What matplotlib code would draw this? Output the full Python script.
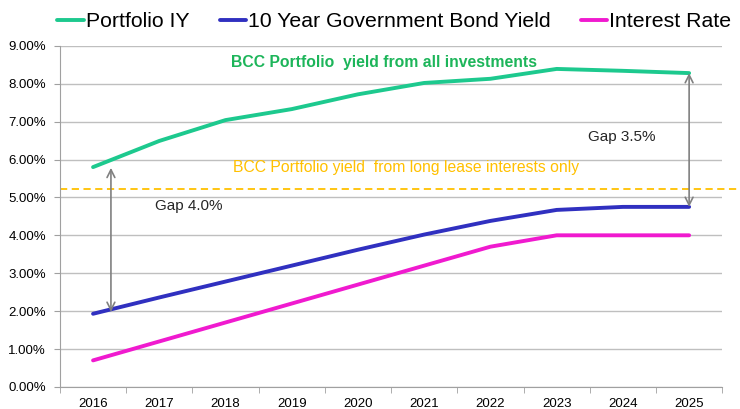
import matplotlib.pyplot as plt
from matplotlib.ticker import FuncFormatter

plt.rcParams['font.family'] = ['Liberation Sans', 'DejaVu Sans']

# Valores por ano (%)
anos = ['2016', '2017', '2018', '2019', '2020', '2021', '2022', '2023', '2024', '2025']
portfolio_iy = [5.80, 6.49, 7.04, 7.33, 7.72, 8.02, 8.13, 8.39, 8.34, 8.28]
bond_yield = [1.93, 2.36, 2.78, 3.20, 3.62, 4.02, 4.38, 4.67, 4.75, 4.75]
interest_rate = [0.70, 1.20, 1.70, 2.20, 2.70, 3.20, 3.70, 4.00, 4.00, 4.00]
long_lease_yield = 5.22

fig = plt.figure(figsize=(7.4, 4.09), dpi=100)
ax = fig.add_axes([0.081, 0.054, 0.895, 0.834])

x = list(range(len(anos)))
ax.plot(x, portfolio_iy, color='#1DC98E', lw=2.8, solid_capstyle='round', label='Portfolio IY')
ax.plot(x, bond_yield, color='#3030C0', lw=2.8, solid_capstyle='round', label='10 Year Government Bond Yield')
ax.plot(x, interest_rate, color='#F01ACF', lw=2.8, solid_capstyle='round', label='Interest Rate')

# Linha tracejada do rendimento de arrendamentos longos
ax.axhline(long_lease_yield, xmin=0, xmax=1.03, color='#FFC000', lw=1.3,
           ls=(0, (4, 2.5)), clip_on=False, zorder=1)

ax.set_xlim(-0.5, len(anos) - 0.5)
ax.set_ylim(0, 9)
ax.set_yticks(range(0, 10))
ax.yaxis.set_major_formatter(FuncFormatter(lambda v, p: f'{v:.2f}%'))
ax.set_xticks(x)
ax.set_xticklabels(anos)
ax.set_xticks([i - 0.5 for i in range(len(anos) + 1)], minor=True)
ax.tick_params(axis='x', which='major', length=0, pad=8, labelsize=9.5)
ax.tick_params(axis='x', which='minor', length=4, color='#A0A0A0')
ax.tick_params(axis='y', length=4, color='#A0A0A0', labelsize=9.5, pad=6)
ax.grid(axis='y', color='#BFBFBF', lw=1)
ax.set_axisbelow(True)
for s in ['top', 'right']:
    ax.spines[s].set_visible(False)
ax.spines['left'].set_color('#A0A0A0')
ax.spines['bottom'].set_color('#A0A0A0')

# Setas de diferença
seta = dict(arrowstyle='<->', color='#808080', lw=1.2, mutation_scale=14, shrinkA=0, shrinkB=0)
ax.annotate('', xy=(0.27, bond_yield[0] + 0.05), xytext=(0.27, portfolio_iy[0] - 0.02), arrowprops=seta)
ax.annotate('', xy=(9, bond_yield[-1]), xytext=(9, portfolio_iy[-1]), arrowprops=seta)

ax.text(0.93, 4.78, 'Gap 4.0%', fontsize=11, color='#262626', va='center')
ax.text(7.48, 6.6, 'Gap 3.5%', fontsize=11, color='#262626', va='center')
ax.text(4.39, 8.55, 'BCC Portfolio  yield from all investments', fontsize=11.3, color='#1DB55A',
        fontweight='bold', ha='center', va='center')
ax.text(4.73, 5.78, 'BCC Portfolio yield  from long lease interests only', fontsize=11.3,
        color='#FFC000', ha='center', va='center')

fig.legend(loc='upper center', bbox_to_anchor=(0.533, 1.012), ncol=3, frameon=False,
           fontsize=15.3, handlelength=1.25, handletextpad=0.1, columnspacing=1.4,
           borderpad=0.3)

fig.savefig('out.png', dpi=100)
